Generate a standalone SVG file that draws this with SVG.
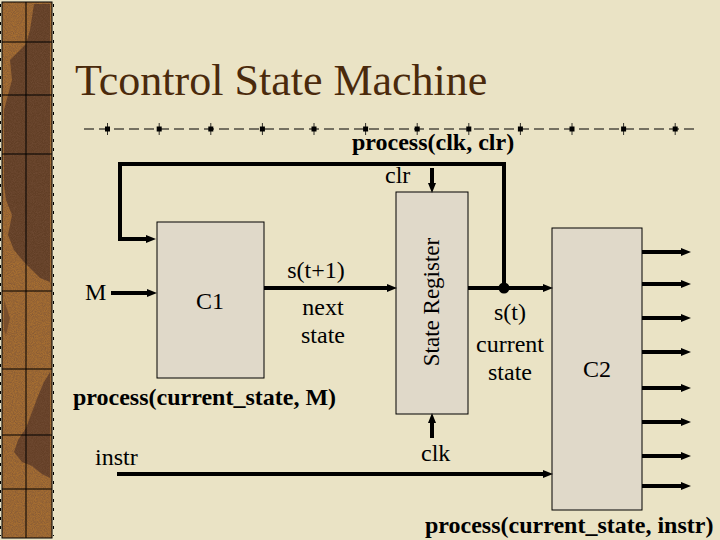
<svg xmlns="http://www.w3.org/2000/svg" width="720" height="540" viewBox="0 0 720 540">
  <defs>
    <marker id="arr" viewBox="0 0 10 8" refX="2" refY="4" markerWidth="10" markerHeight="8" markerUnits="userSpaceOnUse" orient="auto">
      <path d="M0,0 L10,4 L0,8 z" fill="#000"/>
    </marker>
    <filter id="grain" x="0" y="0" width="100%" height="100%">
      <feTurbulence type="fractalNoise" baseFrequency="1.1" numOctaves="2" seed="3" result="n"/>
      <feColorMatrix type="matrix" values="0 0 0 0 0.18  0 0 0 0 0.08  0 0 0 0 0.04  0 0 0 1.2 -0.35"/>
    </filter>
    <style>
      .box { fill: #E0D9C9; stroke: #000; stroke-width: 1; }
      .wire { fill: none; stroke: #000; stroke-width: 4; marker-end: url(#arr); }
      .loop { fill: none; stroke: #000; stroke-width: 4; stroke-linejoin: miter; }
      .t { font-size: 24px; fill: #000; }
      .c { text-anchor: middle; }
      .b { font-weight: bold; }
      .grid { stroke: #000; stroke-width: 1; fill: none; }
    </style>
  </defs>

  <!-- background -->
  <rect x="0" y="0" width="720" height="540" fill="#EAE3C5"/>

  <!-- left decorative strip -->
  <g id="strip">
    <rect x="2" y="2" width="50" height="536" fill="#A66E31"/>
    <path d="M34,4 L50,4 L50,282 L40,278 L32,270 L24,262 L14,250 L8,235 L12,215 L6,200 L4,185 L4,110 L8,95 L12,80 L10,60 L18,52 L26,44 L30,30 Z" fill="#5B3924" opacity="0.92"/>
    <path d="M50,372 L50,478 L42,474 L32,466 L22,462 L14,452 L18,440 L26,428 L32,412 L38,396 L44,382 Z" fill="#5B3924" opacity="0.88"/>
    <path d="M4,300 L10,318 L6,335 L4,330 Z" fill="#5B3924" opacity="0.6"/>
    <rect x="2" y="2" width="50" height="536" filter="url(#grain)"/>
    <rect x="2" y="2" width="50" height="536" class="grid" stroke-width="2"/>
    <line x1="26" y1="2" x2="26" y2="538" class="grid"/>
    <path d="M2,42 H52 M2,95 H52 M2,154 H52 M2,291 H52 M2,369 H52 M2,435 H52 M2,489 H52" class="grid"/>
    <line x1="0.5" y1="4" x2="0.5" y2="536" stroke="#000" stroke-width="1" stroke-dasharray="3 6"/>
    <line x1="53.5" y1="4" x2="53.5" y2="536" stroke="#000" stroke-width="1" stroke-dasharray="3 6"/>
  </g>

  <!-- title -->
  <text id="title" x="75" y="95" font-family="'Liberation Serif', 'Times New Roman', serif" font-size="44" fill="#4A2A0C">Tcontrol State Machine</text>

  <!-- dash-dot separator -->
  <g id="separator">
    <line x1="84" y1="129" x2="696" y2="129" stroke="#000" stroke-width="1.2" stroke-dasharray="10 5"/>
    <g fill="#000">
      <rect x="105" y="126.5" width="5" height="5"/><rect x="156.7" y="126.5" width="5" height="5"/>
      <rect x="208.3" y="126.5" width="5" height="5"/><rect x="259.9" y="126.5" width="5" height="5"/>
      <rect x="311.5" y="126.5" width="5" height="5"/><rect x="363.1" y="126.5" width="5" height="5"/>
      <rect x="414.7" y="126.5" width="5" height="5"/><rect x="466.3" y="126.5" width="5" height="5"/>
      <rect x="517.9" y="126.5" width="5" height="5"/><rect x="569.5" y="126.5" width="5" height="5"/>
      <rect x="621.1" y="126.5" width="5" height="5"/><rect x="672.7" y="126.5" width="5" height="5"/>
    </g>
    <path d="M107.5,123 V135 M159.2,123 V135 M210.8,123 V135 M262.4,123 V135 M314,123 V135 M365.6,123 V135 M417.2,123 V135 M468.8,123 V135 M520.4,123 V135 M572,123 V135 M623.6,123 V135 M675.2,123 V135" stroke="#000" stroke-width="0.8"/>
  </g>

  <!-- nodes -->
  <g id="C1" font-family="'Liberation Serif', 'Times New Roman', serif">
    <rect class="box" x="157" y="222" width="107" height="156"/>
    <text class="t c" x="210" y="309">C1</text>
  </g>
  <g id="StateRegister" font-family="'Liberation Serif', 'Times New Roman', serif">
    <rect class="box" x="396" y="192" width="72" height="222"/>
    <text class="t c" transform="translate(439,302) rotate(-90)" style="font-size:23px">State Register</text>
  </g>
  <g id="C2" font-family="'Liberation Serif', 'Times New Roman', serif">
    <rect class="box" x="552" y="228" width="90" height="282"/>
    <text class="t c" x="597" y="377">C2</text>
  </g>

  <!-- connectors -->
  <g id="connectors">
    <path class="loop" d="M504,288 V164 H120 V239 H148" marker-end="url(#arr)"/>
    <path class="wire" d="M111,293 H149"/>
    <path class="wire" d="M264,288 H389"/>
    <path class="wire" d="M432,168 V185"/>
    <path class="wire" d="M432,438 V421"/>
    <path class="wire" d="M468,288 H545"/>
    <circle cx="504" cy="288" r="5.5" fill="#000"/>
    <path class="wire" d="M117,474 H545"/>
    <path class="wire" d="M642,252 H683"/>
    <path class="wire" d="M642,284 H683"/>
    <path class="wire" d="M642,318 H683"/>
    <path class="wire" d="M642,352 H683"/>
    <path class="wire" d="M642,388 H683"/>
    <path class="wire" d="M642,422 H683"/>
    <path class="wire" d="M642,456 H683"/>
    <path class="wire" d="M642,486 H683"/>
  </g>

  <!-- labels -->
  <g id="labels" font-family="'Liberation Serif', 'Times New Roman', serif">
    <text class="t" x="385" y="183">clr</text>
    <text class="t" x="85" y="300">M</text>
    <text class="t c" x="316" y="278">s(t+1)</text>
    <text class="t c" x="323" y="315">next</text>
    <text class="t c" x="323" y="343">state</text>
    <text class="t c" x="510" y="320">s(t)</text>
    <text class="t c" x="510" y="352">current</text>
    <text class="t c" x="510" y="380">state</text>
    <text class="t" x="421" y="461">clk</text>
    <text class="t" x="95" y="465">instr</text>
    <text class="t b" x="352" y="150">process(clk, clr)</text>
    <text class="t b" x="73" y="405">process(current_state, M)</text>
    <text class="t b" x="425" y="533">process(current_state, instr)</text>
  </g>
</svg>
